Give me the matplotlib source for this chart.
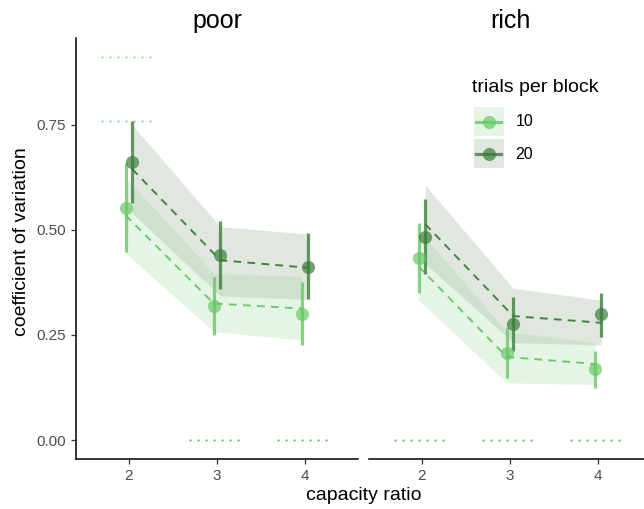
import matplotlib.pyplot as plt
from matplotlib.legend_handler import HandlerBase
from matplotlib.lines import Line2D
from matplotlib.patches import Rectangle

plt.rcParams['font.family'] = ['Liberation Sans', 'DejaVu Sans']

ratios = [2, 3, 4]
panels = ['poor', 'rich']
groups = ['10', '20']

# observed mean and error bar limits, per panel and trials per block
obs_mean = {
    'poor': {'10': [0.552, 0.319, 0.301], '20': [0.663, 0.440, 0.413]},
    'rich': {'10': [0.433, 0.208, 0.169], '20': [0.484, 0.276, 0.300]},
}
obs_lo = {
    'poor': {'10': [0.447, 0.250, 0.226], '20': [0.564, 0.359, 0.335]},
    'rich': {'10': [0.349, 0.147, 0.125], '20': [0.395, 0.213, 0.246]},
}
obs_hi = {
    'poor': {'10': [0.659, 0.389, 0.375], '20': [0.760, 0.522, 0.492]},
    'rich': {'10': [0.516, 0.270, 0.213], '20': [0.574, 0.341, 0.351]},
}

# model fit and its interval
fit = {
    'poor': {'10': [0.535, 0.325, 0.313], '20': [0.645, 0.428, 0.410]},
    'rich': {'10': [0.413, 0.198, 0.181], '20': [0.514, 0.295, 0.279]},
}
fit_lo = {
    'poor': {'10': [0.445, 0.258, 0.238], '20': [0.540, 0.343, 0.335]},
    'rich': {'10': [0.333, 0.136, 0.132], '20': [0.420, 0.232, 0.226]},
}
fit_hi = {
    'poor': {'10': [0.625, 0.397, 0.389], '20': [0.750, 0.508, 0.490]},
    'rich': {'10': [0.500, 0.258, 0.232], '20': [0.607, 0.361, 0.333]},
}

# dotted reference marks: (ratio, level)
marks = {
    'poor': [(2, 0.912), (2, 0.760), (3, 0.0), (4, 0.0)],
    'rich': [(2, 0.0), (3, 0.0), (4, 0.0)],
}
mark_color = {0.912: '#a6dba6', 0.760: '#a6d2a6', 0.0: '#79c679'}

col = {'10': '#66c966', '20': '#3c7d3c'}
fill = {'10': '#b8e0b8', '20': '#a4bda4'}
shift = {'10': -0.0375, '20': 0.0375}


class KeyHandler(HandlerBase):
    # shaded square with a centred line and point, like the ribbon + pointrange
    def create_artists(self, legend, orig_handle, xdescent, ydescent,
                       width, height, fontsize, trans):
        g = orig_handle
        x0, y0 = -xdescent, -ydescent
        cy = y0 + height / 2
        box = Rectangle((x0, y0), width, height, facecolor=fill[g],
                        alpha=0.35, lw=0, transform=trans)
        line = Line2D([x0 + 1.5, x0 + width - 1.5], [cy, cy], color=col[g],
                      lw=2.3, alpha=0.8, transform=trans)
        dot = Line2D([x0 + width / 2], [cy], marker='o', ms=9.5, mew=0,
                     color=col[g], alpha=0.7, transform=trans)
        return [box, line, dot]


fig = plt.figure(figsize=(6.44, 5.09), dpi=100)
W, H = 644, 509
axes = {
    'poor': fig.add_axes([76 / W, 50 / H, 282 / W, 421 / H]),
    'rich': fig.add_axes([369 / W, 50 / H, 282 / W, 421 / H]),
}

for p in panels:
    ax = axes[p]
    for g in groups:
        xs = [r + shift[g] for r in ratios]
        ax.fill_between(xs, fit_lo[p][g], fit_hi[p][g], color=fill[g],
                        alpha=0.35, lw=0, zorder=1)
    for g in groups:
        xs = [r + shift[g] for r in ratios]
        ax.plot(xs, fit[p][g], color=col[g], lw=1.4, alpha=0.95,
                dashes=(4, 3.2), zorder=3)
        ax.vlines(xs, obs_lo[p][g], obs_hi[p][g], color=col[g], lw=2.3,
                  alpha=0.8, zorder=4)
        ax.plot(xs, obs_mean[p][g], 'o', color=col[g], ms=9.5, mew=0,
                alpha=0.7, zorder=5)
    for r, lvl in marks[p]:
        ax.plot([r - 0.31, r + 0.25], [lvl, lvl], color=mark_color[lvl],
                lw=1.8, dashes=(0.01, 3.19), dash_capstyle='round', zorder=2)

    ax.set_xlim(1.4, 4.6)
    ax.set_ylim(-0.0452, 0.957)
    ax.set_xticks(ratios)
    ax.set_title(p, fontsize=18, pad=7)
    for s in ('top', 'right'):
        ax.spines[s].set_visible(False)
    for s in ('left', 'bottom'):
        ax.spines[s].set_linewidth(1.1)
    ax.tick_params(labelsize=11, labelcolor='#4d4d4d', color='#333333',
                   length=3.5, width=0.9)

axes['poor'].set_yticks([0, 0.25, 0.5, 0.75])
axes['rich'].spines['left'].set_visible(False)
axes['rich'].set_yticks([])

fig.text(363.5 / W, 1 - 496 / H, 'capacity ratio', fontsize=14,
         ha='center', va='center')
fig.text(22 / W, 1 - 242 / H, 'coefficient of variation', fontsize=14,
         rotation=90, ha='center', va='center')

# legend: title as its own text, keys below it
fig.text(472 / W, 1 - 87 / H, 'trials per block', fontsize=14,
         ha='left', va='center')
fig.legend(groups, groups, handler_map={str: KeyHandler()},
           loc='upper left', bbox_to_anchor=(474 / W, 1 - 107 / H),
           frameon=False, fontsize=11.5, borderpad=0, borderaxespad=0,
           handlelength=1.85, handleheight=2.42, handletextpad=0.75,
           labelspacing=0.2)

fig.savefig('out.png', dpi=100)
